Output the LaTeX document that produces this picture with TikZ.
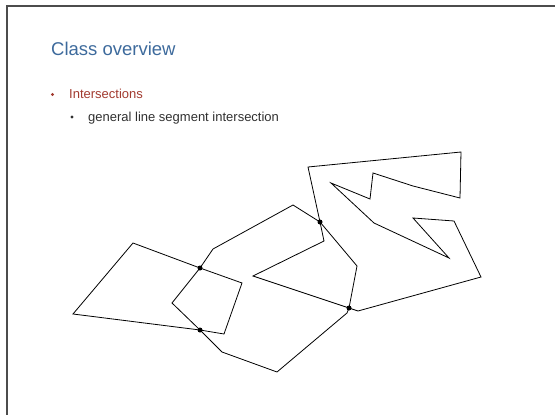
\documentclass[tikz,border=0pt]{standalone}
\usepackage{fontspec}
\setmainfont{Liberation Sans}
\definecolor{titleblue}{HTML}{3D6A9C}
\definecolor{itemred}{HTML}{A23B30}
\definecolor{bodygray}{HTML}{303030}
\begin{document}
\begin{tikzpicture}[x=1pt,y=-1pt,
  poly/.style={draw=black,line width=0.8pt,line join=miter},
  hit/.style={circle,fill=black,inner sep=0pt,minimum size=5pt},
  bulletdot/.style={circle,inner sep=0pt,minimum size=3.4pt},
  frameline/.style={draw=black!70,line width=1.4pt}]
\useasboundingbox (0,0) rectangle (555,415);
% slide frame
\draw[frameline] (7,415) -- (7,6) -- (555,6);
% title and bullets
\node[anchor=base west,inner sep=0pt,text=titleblue,font=\fontsize{18.5}{22}\selectfont] (title) at (51,56) {Class overview};
\node[bulletdot,fill=itemred] (b1) at (52.5,94.5) {};
\node[anchor=base west,inner sep=0pt,text=itemred,font=\fontsize{13}{15}\selectfont] (t1) at (69,98) {Intersections};
\node[bulletdot,fill=bodygray] (b2) at (72,117) {};
\node[anchor=base west,inner sep=0pt,text=bodygray,font=\fontsize{13}{15}\selectfont] (t2) at (88,121) {general line segment intersection};
% intersection points
\coordinate (p1) at (200,268);
\coordinate (p2) at (200,330);
\coordinate (p3) at (320,222);
\coordinate (p4) at (349,308);
% quadrilateral
\draw[poly] (133,243) -- (p1) -- (242,283) -- (224,334) -- (p2) -- (73,314) -- cycle;
% middle polygon
\draw[poly] (213,249) -- (293,205) -- (p3) -- (357,266) -- (p4) -- (347,313)
  -- (277,372) -- (222,352) -- (p2) -- (172,303) -- (p1) -- cycle;
% jagged polygon
\draw[poly] (308,167) -- (461,152) -- (460,198) -- (413,186) -- (373,173)
  -- (370,199) -- (331,183) -- (374,223) -- (449,258) -- (413,218)
  -- (454,221) -- (481,277) -- (358,311) -- (p4) -- (253,276)
  -- (324,241) -- (p3) -- cycle;
% marked crossings
\foreach \p in {p1,p2,p3,p4} \node[hit] at (\p) {};
\end{tikzpicture}
\end{document}
